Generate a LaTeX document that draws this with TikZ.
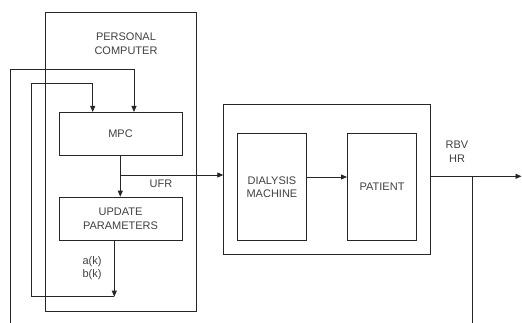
\documentclass[tikz,border=0pt]{standalone}
\usepackage{fontspec}
\setmainfont{Liberation Sans}
\usetikzlibrary{arrows.meta}
\begin{document}
\begin{tikzpicture}[x=1pt,y=-1pt,
  wire/.style={draw=black!85,line width=0.85pt},
  flow/.style={wire,-{Triangle[length=6pt,width=5pt]}},
  blockbox/.style={draw=black!85,line width=0.85pt,anchor=north west,inner sep=0pt},
  lbl/.style={font=\fontsize{11}{13.5}\selectfont,text=black!75,align=center,inner sep=0pt}]
\useasboundingbox (0,0) rectangle (522,323);

% enclosing boxes
\node[blockbox,minimum width=151.5pt,minimum height=299pt] (pc) at (44.5,12) {};
\node[blockbox,minimum width=206.5pt,minimum height=150pt] (plant) at (223.3,104.3) {};

% inner blocks
\node[blockbox,minimum width=123.2pt,minimum height=43pt] (mpc) at (58.5,112) {};
\node[lbl] at (mpc.center) {MPC};
\node[blockbox,minimum width=123.2pt,minimum height=43.3pt] (upd) at (58.5,196.7) {};
\node[lbl] at (upd.center) {UPDATE\\PARAMETERS};
\node[blockbox,minimum width=69.6pt,minimum height=106.7pt] (dm) at (236.7,133.3) {};
\node[lbl] at (dm.center) {DIALYSIS\\MACHINE};
\node[blockbox,minimum width=69.3pt,minimum height=106.7pt] (pat) at (347,133.3) {};
\node[lbl] at (pat.center) {PATIENT};

% labels
\node[lbl] (pclbl) at (126,43.5) {PERSONAL\\COMPUTER};
\node[lbl] (ufr) at (161,184) {UFR};
\node[lbl] (ab) at (92,268) {a(k)\\b(k)};
\node[lbl] (rbv) at (457,151.5) {RBV\\HR};

% junction and end points
\coordinate (ufrsplit) at (120.3,175);
\coordinate (plantin) at (plant.west |- ufrsplit);
\coordinate (outsplit) at (472,176.3);
\coordinate (outend) at (521.5,176.3);
\coordinate (abend) at (114.3,296.7);
\coordinate (fbout) at (472,323);
\coordinate (fbin) at (10.7,323);

% MPC output, into parameter update and the plant
\draw[flow] (mpc.south -| ufrsplit) -- (upd.north -| ufrsplit);
\draw[flow] (ufrsplit) -- (plantin);
\draw[flow] (dm.east |- 0,177) -- (pat.west |- 0,177);
\draw[flow] (plant.east |- outsplit) -- (outend);
\draw[wire] (outsplit) -- (fbout);

% parameter feedback a(k), b(k)
\draw[flow] (upd.south -| abend) -- (abend);
\draw[flow] (abend) -- (31.7,296.7) -- (31.7,83.3) -- (92.7,83.3) -- (mpc.north -| 92.7,0);

% measurement feedback RBV, HR
\draw[flow] (fbin) -- (10.7,69) -- (134,69) -- (mpc.north -| 134,0);
\end{tikzpicture}
\end{document}
